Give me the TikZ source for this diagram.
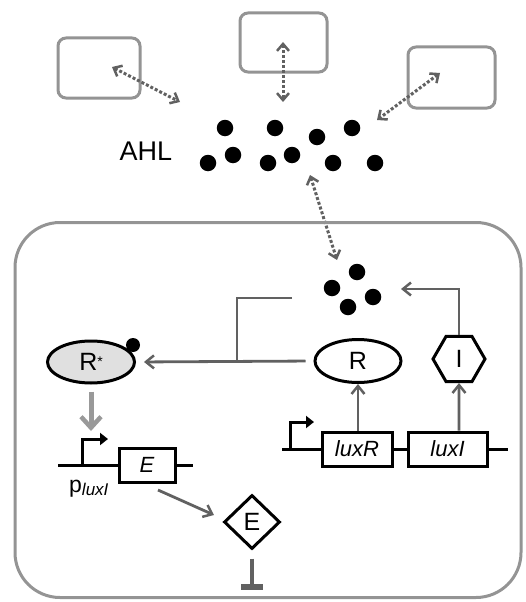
\documentclass[tikz,border=0pt]{standalone}
\usepackage{fontspec}
\setmainfont{Liberation Sans}
\usetikzlibrary{arrows.meta,shapes.geometric}
\begin{document}
\begin{tikzpicture}[x=1pt,y=-1pt,
  graybox/.style={draw=black!42, line width=3pt, rounded corners=8pt, inner sep=0pt},
  dot/.style={circle, fill=black, inner sep=0pt, minimum size=16.5pt},
  smalldot/.style={circle, fill=black, inner sep=0pt, minimum size=14pt},
  diffuse/.style={draw=black!62, line width=3pt, dotted, {Straight Barb[length=7pt,width=12pt,line width=2.5pt]}-{Straight Barb[length=7pt,width=12pt,line width=2.5pt]}},
  conn/.style={draw=black!62, line width=2.8pt, -{Straight Barb[length=8pt,width=13pt,line width=2.5pt]}},
  gline/.style={draw=black!62, line width=2.8pt},
  gene/.style={draw=black, line width=3pt, minimum height=34pt, inner sep=0pt, font=\fontsize{22}{22}\selectfont\itshape},
  dna/.style={draw=black, line width=3pt},
  prom/.style={draw=black, line width=3pt, -{Triangle[length=8pt,width=12pt]}},
  prot/.style={draw=black, line width=3pt, inner sep=0pt, font=\fontsize{25}{25}\selectfont},
]
\useasboundingbox (0,0) rectangle (526,602);

% outside boxes
\node[graybox, minimum width=82pt, minimum height=60pt] (boxL) at (99,68) {};
\node[graybox, minimum width=87pt, minimum height=59pt] (boxM) at (283.5,42.5) {};
\node[graybox, minimum width=87pt, minimum height=61pt] (boxR) at (451.5,77.5) {};

% AHL
\node[font=\fontsize{27}{27}\selectfont] (ahl) at (146,151) {AHL};
\node[dot] (a1) at (225,128) {};
\node[dot] (a2) at (275,128) {};
\node[dot] (a3) at (317,137) {};
\node[dot] (a4) at (352,128) {};
\node[dot] (a5) at (208,163) {};
\node[dot] (a6) at (233,155) {};
\node[dot] (a7) at (268,163) {};
\node[dot] (a8) at (292,155) {};
\node[dot] (a9) at (333,163) {};
\node[dot] (a10) at (375,163) {};

% diffusion arrows
\coordinate (dL1) at (112,67);  \coordinate (dL2) at (180,102);
\coordinate (dM1) at (283,42);  \coordinate (dM2) at (283,102);
\coordinate (dR1) at (440,73);  \coordinate (dR2) at (377,120);
\coordinate (dC1) at (310,175); \coordinate (dC2) at (337,260);
\draw[diffuse] (dL1) -- (dL2);
\draw[diffuse] (dM1) -- (dM2);
\draw[diffuse] (dR1) -- (dR2);
\draw[diffuse] (dC1) -- (dC2);

% cell
\node[draw=black!42, line width=3pt, rounded corners=45pt, minimum width=506pt, minimum height=375pt, inner sep=0pt] (cell) at (268,410) {};

% inner AHL
\node[dot] (b1) at (357,272) {};
\node[dot] (b2) at (332,288) {};
\node[dot] (b3) at (373,297) {};
\node[dot] (b4) at (348,307) {};

% proteins
\node[prot, ellipse, minimum width=87pt, minimum height=42pt, fill=black!12] (Rs) at (91,362) {R\raisebox{4pt}{\fontsize{14}{14}\selectfont *}};
\node[smalldot] (rsdot) at (133,345) {};
\node[prot, ellipse, minimum width=86pt, minimum height=43pt] (R) at (358,361) {R};
\node[prot, regular polygon, regular polygon sides=6, minimum size=52pt] (I) at (459,359) {I};

% I -> AHL
\coordinate (ahlin) at (401,289);
\draw[conn] (I.north) |- (ahlin);
% AHL joins R
\coordinate (br1) at (292,298);
\coordinate (br2) at (237,362);
\draw[gline] (br1) -| (br2);
\draw[conn, shorten <=8pt, shorten >=8pt] (R.west) -- (Rs.east);

% R* activates promoter
\coordinate (pact) at (91,431);
\draw[draw=black!40, line width=5pt, -{Straight Barb[length=11pt,width=20pt,line width=4.5pt]}, shorten <=7pt] (Rs.south) -- (pact);

% left construct
\node[gene, minimum width=56pt] (Ebox) at (147,465) {E};
\coordinate (dl1) at (58,465);
\coordinate (dl2) at (193,465);
\draw[dna] (dl1) -- (Ebox.west);
\draw[dna] (Ebox.east) -- (dl2);
\coordinate (pl1) at (82,465);
\coordinate (pl2) at (108,439);
\draw[prom] (pl1) |- (pl2);
\node[anchor=base west, inner sep=0pt] (plab) at (69,492) {\fontsize{23}{23}\selectfont p\raisebox{-3pt}{\fontsize{17}{17}\selectfont\itshape luxI}};

% E product
\node[prot, diamond, minimum width=56pt, minimum height=54pt, aspect=1] (Ed) at (252,522) {E};
\coordinate (es) at (158,490);
\coordinate (et) at (214,515);
\draw[conn] (es) -- (et);
\coordinate (tend) at (252,587);
\draw[draw=black!62, line width=4pt, shorten <=8pt] (Ed.south) -- (tend);
\draw[draw=black!62, line width=5.5pt] ([xshift=-11pt]tend) -- ([xshift=11pt]tend);

% right construct
\node[gene, minimum width=70pt] (luxR) at (357,449) {luxR};
\node[gene, minimum width=79pt] (luxI) at (447.5,449) {luxI};
\coordinate (dr1) at (282,449);
\coordinate (dr2) at (508,449);
\draw[dna] (dr1) -- (luxR.west);
\draw[dna] (luxR.east) -- (luxI.west);
\draw[dna] (luxI.east) -- (dr2);
\coordinate (pr1) at (290,449);
\coordinate (pr2) at (314,422);
\draw[prom] (pr1) |- (pr2);
\draw[conn] (luxR.north -| R) -- (R.south);
\draw[conn] (luxI.north -| I) -- (I.south);
\end{tikzpicture}
\end{document}
